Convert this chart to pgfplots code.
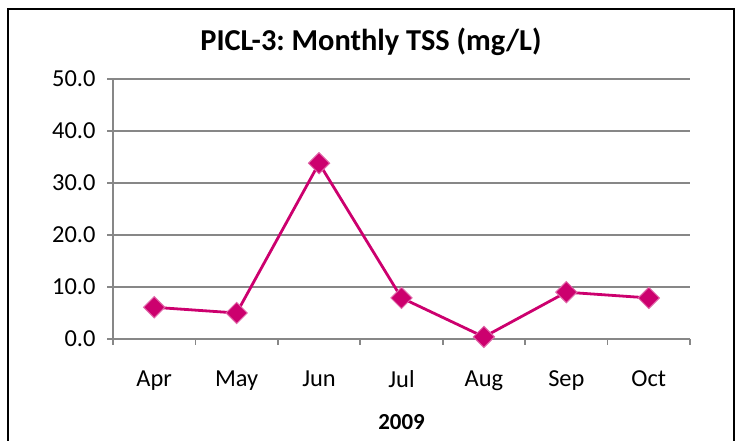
\documentclass[border=0pt]{standalone}
\usepackage{fontspec}
\setmainfont{Carlito}
\usepackage{pgfplots}
\pgfplotsset{compat=1.18}
\definecolor{linec}{RGB}{204,0,110}
\definecolor{gridc}{RGB}{135,135,135}
\frenchspacing
\begin{document}
\begin{tikzpicture}[x=1bp,y=1bp]
\path (0,0) rectangle (743,439);
\draw[line width=2bp,black] (8,-2) -- (8,430) -- (734,430) -- (734,-2);
\begin{axis}[
  at={(113bp,100bp)}, anchor=south west,
  scale only axis, width=577bp, height=260bp,
  xmin=-0.5, xmax=6.5, ymin=0, ymax=50,
  axis x line*=bottom, axis y line*=left,
  axis line style={draw=gridc, line width=1.6bp, -},
  xtick={0,...,6},
  xticklabels={Apr,May,Jun,Jul,Aug,Sep,Oct},
  minor xtick={-0.5,0.5,...,6.5},
  major x tick style={draw=none},
  minor x tick style={draw=gridc, line width=1.6bp},
  ytick={0,10,...,50},
  major y tick style={draw=gridc, line width=1.6bp},
  tick align=outside,
  major tick length=6bp, minor tick length=6bp,
  ymajorgrids,
  major grid style={draw=gridc, line width=1.6bp},
  /pgf/number format/assume math mode=true,
  ticklabel style={font=\fontsize{24.5}{28}\selectfont},
  xticklabel style={yshift=-22bp},
  yticklabel style={xshift=-8bp, /pgf/number format/.cd, fixed, fixed zerofill, precision=1},
  title={\bfseries PICL-3: Monthly TSS (mg/L)},
  title style={at={(axis description cs:0.447,1.119)}, anchor=center, font=\fontsize{30.5}{34}\selectfont},
  xlabel={\bfseries 2009},
  xlabel style={at={(axis description cs:0.5,0)}, anchor=center, yshift=-83bp, font=\fontsize{23}{26}\selectfont},
  clip=false,
]
\addplot[color=linec, line width=2.8bp, mark=square*, mark size=7.5bp, mark options={rotate=45, fill=linec, draw=linec!60, line width=1bp}]
  coordinates {(0,6.1) (1,5.0) (2,33.8) (3,7.9) (4,0.4) (5,9.0) (6,7.9)};
\end{axis}
\end{tikzpicture}
\end{document}
